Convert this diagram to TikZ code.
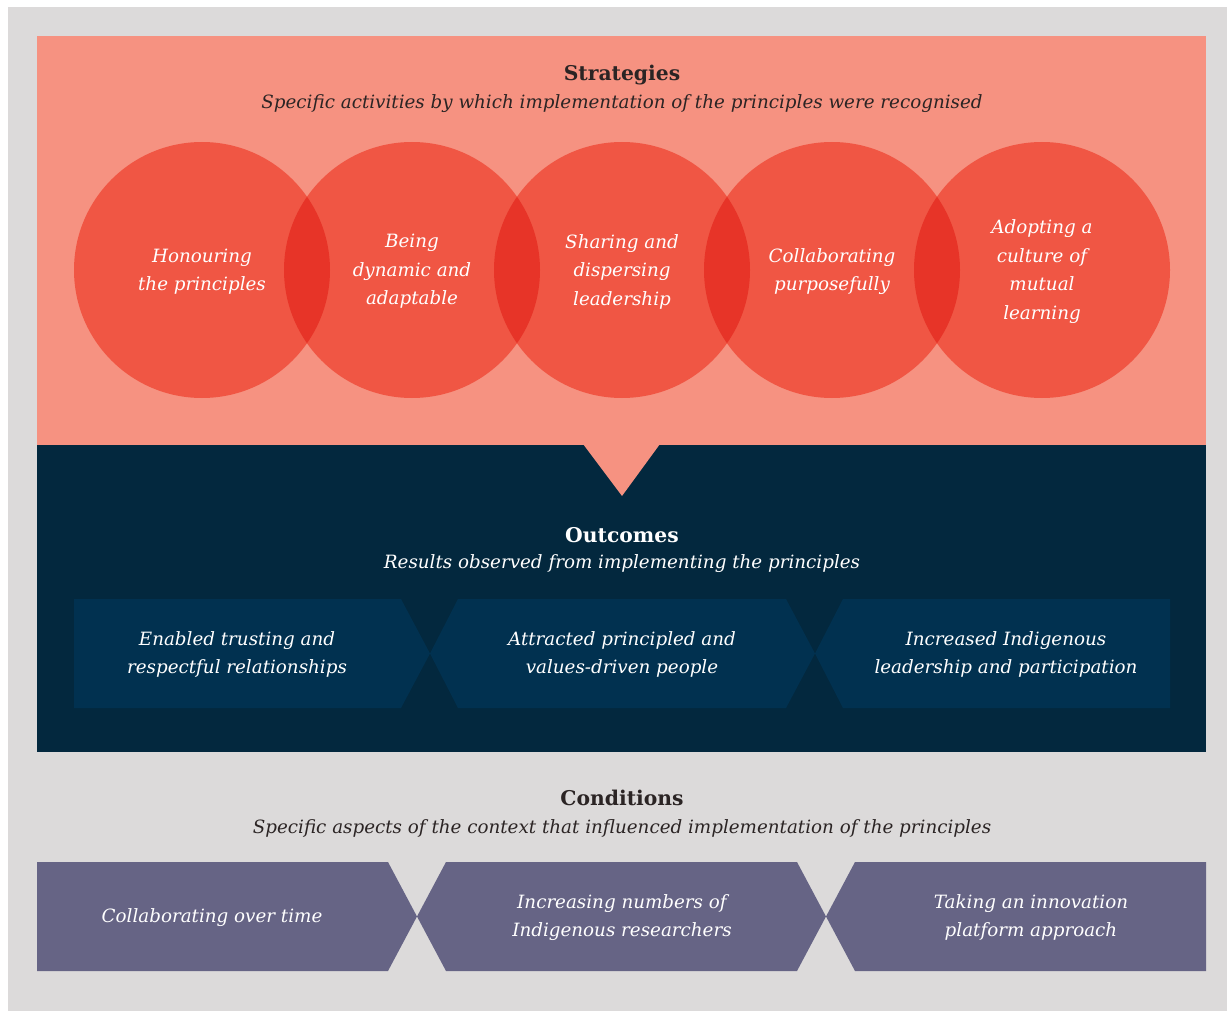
\documentclass[tikz,border=0pt]{standalone}
\usepackage{fontspec}
\setmainfont{DejaVu Serif}
\definecolor{greybg}{HTML}{DCDADA}
\definecolor{pinkbg}{HTML}{F69281}
\definecolor{circ}{HTML}{F05644}
\definecolor{lens}{HTML}{E73428}
\definecolor{navybg}{HTML}{03283E}
\definecolor{navybox}{HTML}{013150}
\definecolor{purplebox}{HTML}{666485}
\definecolor{darktext}{HTML}{2B2424}
\tikzset{
  headtxt/.style={font=\fontsize{20.3}{26}\selectfont\bfseries, inner sep=0pt},
  subtxt/.style={font=\fontsize{18.3}{26}\selectfont\itshape, inner sep=0pt},
  lbltxt/.style={font=\fontsize{18.3}{28.5}\selectfont\itshape, align=center, text=white, inner sep=0pt},
}
\begin{document}
\begin{tikzpicture}[x=1pt,y=-1pt]
\useasboundingbox (0,0) rectangle (1227,1011);
\fill[white] (0,0) rectangle (1227,1011);
\fill[greybg] (8,7) rectangle (1227,1011);
\fill[pinkbg] (37,36) rectangle (1206,445);
\fill[navybg] (37,445) rectangle (1206,752);
\fill[pinkbg] (583,444) -- (660,444) -- (622,496) -- cycle;
% circles
\foreach \x in {202,412,622,832,1042} { \fill[circ] (\x,270) circle (128pt); }
\foreach \a/\b in {202/412,412/622,622/832,832/1042} {
  \begin{scope}
    \clip (\a,270) circle (128pt);
    \fill[lens] (\b,270) circle (128pt);
  \end{scope}
}
\node[headtxt, text=darktext] (sth) at (622,75) {Strategies};
\node[subtxt, text=darktext] (sts) at (622,104) {Specific activities by which implementation of the principles were recognised};
\node[lbltxt] (c1) at (202,271.5) {Honouring\\the principles};
\node[lbltxt] (c2) at (412,271.5) {Being\\dynamic and\\adaptable};
\node[lbltxt] (c3) at (622,271.5) {Sharing and\\dispersing\\leadership};
\node[lbltxt] (c4) at (832,271.5) {Collaborating\\purposefully};
\node[lbltxt] (c5) at (1042,271.5) {Adopting a\\culture of\\mutual\\learning};
% outcomes
\node[headtxt, text=white] (outh) at (622,535) {Outcomes};
\node[subtxt, text=white] (outs) at (622,564) {Results observed from implementing the principles};
\fill[navybox] (74,599) -- (401,599) -- (430,653.5) -- (401,708) -- (74,708) -- cycle;
\fill[navybox] (458,599) -- (786,599) -- (815,653.5) -- (786,708) -- (458,708) -- (430,653.5) -- cycle;
\fill[navybox] (843,599) -- (1170,599) -- (1170,708) -- (843,708) -- (815,653.5) -- cycle;
\node[lbltxt] (o1) at (237,654.5) {Enabled trusting and\\respectful relationships};
\node[lbltxt] (o2) at (622,654.5) {Attracted principled and\\values-driven people};
\node[lbltxt] (o3) at (1006,654.5) {Increased Indigenous\\leadership and participation};
% conditions
\node[headtxt, text=darktext] (conh) at (622,798) {Conditions};
\node[subtxt, text=darktext] (cons) at (622,828) {Specific aspects of the context that influenced implementation of the principles};
\fill[purplebox] (37,862) -- (388,862) -- (417,916.5) -- (388,971) -- (37,971) -- cycle;
\fill[purplebox] (446,862) -- (797,862) -- (826,916.5) -- (797,971) -- (446,971) -- (417,916.5) -- cycle;
\fill[purplebox] (855,862) -- (1206,862) -- (1206,971) -- (855,971) -- (826,916.5) -- cycle;
\node[lbltxt] (k1) at (212,917.5) {Collaborating over time};
\node[lbltxt] (k2) at (622,917.5) {Increasing numbers of\\Indigenous researchers};
\node[lbltxt] (k3) at (1031,917.5) {Taking an innovation\\platform approach};
\end{tikzpicture}
\end{document}
